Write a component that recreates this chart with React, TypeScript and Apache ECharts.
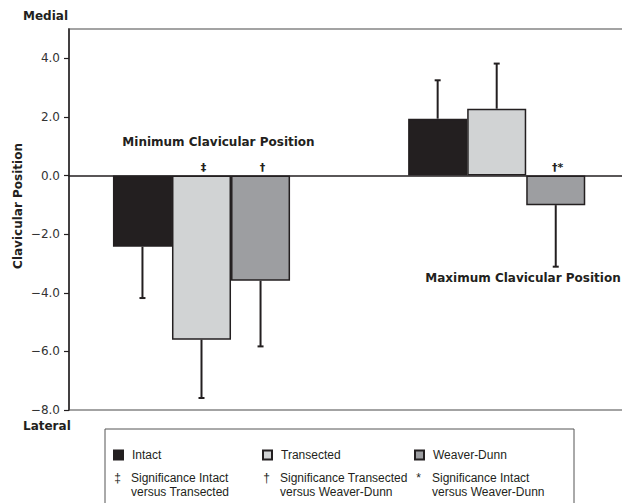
import React, { useEffect, useRef } from "react";
import * as echarts from "echarts";

const categories = ["Minimum Clavicular Position", "Maximum Clavicular Position"];
const seriesNames = ["Intact", "Transected", "Weaver-Dunn"];
const intact = [-2.43, 1.94];
const intactSD = [1.75, 1.31];
const transected = [-5.6, 2.28];
const transectedSD = [1.99, 1.54];
const weaverDunn = [-3.59, -1.01];
const weaverDunnSD = [2.24, 2.1];
const intactMarks = ["", ""];
const transectedMarks = ["\u2021", ""];
const weaverDunnMarks = ["\u2020", "\u2020*"];
const yTicks = [-8, -6, -4, -2, 0, 2, 4];
const sigSymbols = ["\u2021", "\u2020", "*"];
const sigTexts = [
  "Significance Intact\nversus Transected",
  "Significance Transected\nversus Weaver-Dunn",
  "Significance Intact\nversus Weaver-Dunn",
];

const colors = ["#231f20", "#d1d3d4", "#9d9ea1"];
const DARK = "#231f20";
const BAR_FRAC = 0.2;
const BOLD_FONT = "DejaVu Sans";
const LEG_FONT = "Liberation Sans";

export default function App() {
  const ref = useRef<HTMLDivElement>(null);
  useEffect(() => {
    if (!ref.current) return;
    document.body.style.margin = "0";
    const chart = echarts.init(ref.current, undefined, { renderer: "svg" });
    const means = [intact, transected, weaverDunn];
    const sds = [intactSD, transectedSD, weaverDunnSD];
    const marks = [intactMarks, transectedMarks, weaverDunnMarks];
    const items: any[] = [];
    for (let k = 0; k < 3; k++) {
      for (let i = 0; i < categories.length; i++) {
        items.push({ cat: i, k, mean: means[k][i], sd: sds[k][i], mark: marks[k][i] });
      }
    }
    const top = 29;
    const bottom = 93;
    const legendCols = [113, 262, 414];

    const graphics: any[] = [
      { type: "text", left: 23, top: 10, style: { text: "Medial", font: `bold 12px '${BOLD_FONT}'`, fill: DARK } },
      { type: "text", left: 23, top: 420, style: { text: "Lateral", font: `bold 12px '${BOLD_FONT}'`, fill: DARK } },
      {
        type: "text",
        x: 18,
        y: 206,
        rotation: Math.PI / 2,
        style: { text: "Clavicular Position", font: `bold 12px '${BOLD_FONT}'`, fill: DARK, align: "center", verticalAlign: "middle" },
      },
      {
        type: "text",
        x: 218.5,
        y: 142,
        style: { text: categories[0], font: `bold 12px '${BOLD_FONT}'`, fill: DARK, align: "center", verticalAlign: "middle" },
      },
      {
        type: "text",
        x: 523,
        y: 278,
        style: { text: categories[1], font: `bold 12px '${BOLD_FONT}'`, fill: DARK, align: "center", verticalAlign: "middle" },
      },
      {
        type: "rect",
        shape: { x: 105, y: 429, width: 469, height: 100 },
        style: { fill: "none", stroke: "#555", lineWidth: 1 },
      },
    ];
    for (let c = 0; c < 3; c++) {
      graphics.push({
        type: "text",
        x: legendCols[c] + 4.5,
        y: 472,
        style: { text: sigSymbols[c], font: `12px '${LEG_FONT}'`, fill: DARK, align: "center", verticalAlign: "top" },
      });
      graphics.push({
        type: "text",
        x: legendCols[c] + 18,
        y: 471,
        style: { text: sigTexts[c], font: `12px '${LEG_FONT}'`, fill: DARK, lineHeight: 14, verticalAlign: "top" },
      });
    }

    chart.setOption({
      animation: false,
      grid: [
        {
          left: 69, right: -3, top, bottom, show: true, borderColor: "#a3a3a3", borderWidth: 2,
          backgroundColor: "transparent", outerBoundsMode: "none", containLabel: false,
        },
        { left: 53.9, width: 590.4, top, bottom, outerBoundsMode: "none", containLabel: false },
      ],
      xAxis: [
        {
          gridIndex: 0,
          type: "category",
          data: [""],
          axisLine: { onZero: true, lineStyle: { color: DARK, width: 1.5 } },
          axisTick: { show: false },
          axisLabel: { show: false },
        },
        { gridIndex: 1, type: "category", data: categories, show: false },
      ],
      yAxis: [
        {
          gridIndex: 0,
          type: "value",
          min: -8,
          max: 5,
          interval: 1,
          axisLine: { show: true, lineStyle: { color: DARK, width: 1.5 } },
          axisTick: { show: true, length: 5, customValues: yTicks, lineStyle: { color: DARK, width: 1.2 } },
          axisLabel: {
            customValues: yTicks,
            margin: 9,
            color: "#333",
            fontFamily: "DejaVu Sans",
            fontSize: 12,
            formatter: (v: number) => v.toFixed(1).replace("-", "\u2212"),
          },
          splitLine: { show: false },
        },
        { gridIndex: 1, type: "value", min: -8, max: 5, show: false },
      ],
      legend: seriesNames.map((name, c) => ({
        data: [name],
        left: legendCols[c],
        top: 449,
        icon: "rect",
        itemWidth: 9,
        itemHeight: 9,
        itemGap: 5,
        padding: 0,
        textStyle: { fontFamily: LEG_FONT, fontSize: 12, color: DARK, padding: [0, 0, 0, 4] },
      })),
      graphic: graphics,
      series: [
        ...seriesNames.map((name, k) => ({
          name,
          type: "bar",
          xAxisIndex: 1,
          yAxisIndex: 1,
          data: means[k],
          barWidth: `${BAR_FRAC * 100}%`,
          barGap: "0%",
          itemStyle: { color: colors[k], borderColor: DARK, borderWidth: 1.5 },
        })),
        {
          type: "custom",
          xAxisIndex: 1,
          yAxisIndex: 1,
          clip: false,
          z: 5,
          encode: { x: 0, y: 1 },
          data: items.map((d) => [d.cat, d.mean]),
          renderItem: (params: any, api: any) => {
            const it = items[params.dataIndex];
            const base = api.coord([it.cat, 0]);
            const band = api.size([1, 0])[0];
            const x = base[0] + (it.k - 1) * band * BAR_FRAC;
            const yMean = api.coord([it.cat, it.mean])[1];
            const end = it.mean + (it.mean >= 0 ? it.sd : -it.sd);
            const yEnd = api.coord([it.cat, end])[1];
            const children: any[] = [
              { type: "line", shape: { x1: x, y1: yMean, x2: x, y2: yEnd }, style: { stroke: DARK, lineWidth: 2 } },
              { type: "line", shape: { x1: x - 3, y1: yEnd, x2: x + 3, y2: yEnd }, style: { stroke: DARK, lineWidth: 2 } },
            ];
            if (it.mark) {
              children.push({
                type: "text",
                x: x + 2,
                y: base[1] - 3,
                style: { text: it.mark, font: `bold 11px '${BOLD_FONT}'`, fill: DARK, align: "center", verticalAlign: "bottom" },
              });
            }
            return { type: "group", children };
          },
        },
      ],
    });
    return () => chart.dispose();
  }, []);
  return <div ref={ref} style={{ width: 622, height: 503 }} />;
}
